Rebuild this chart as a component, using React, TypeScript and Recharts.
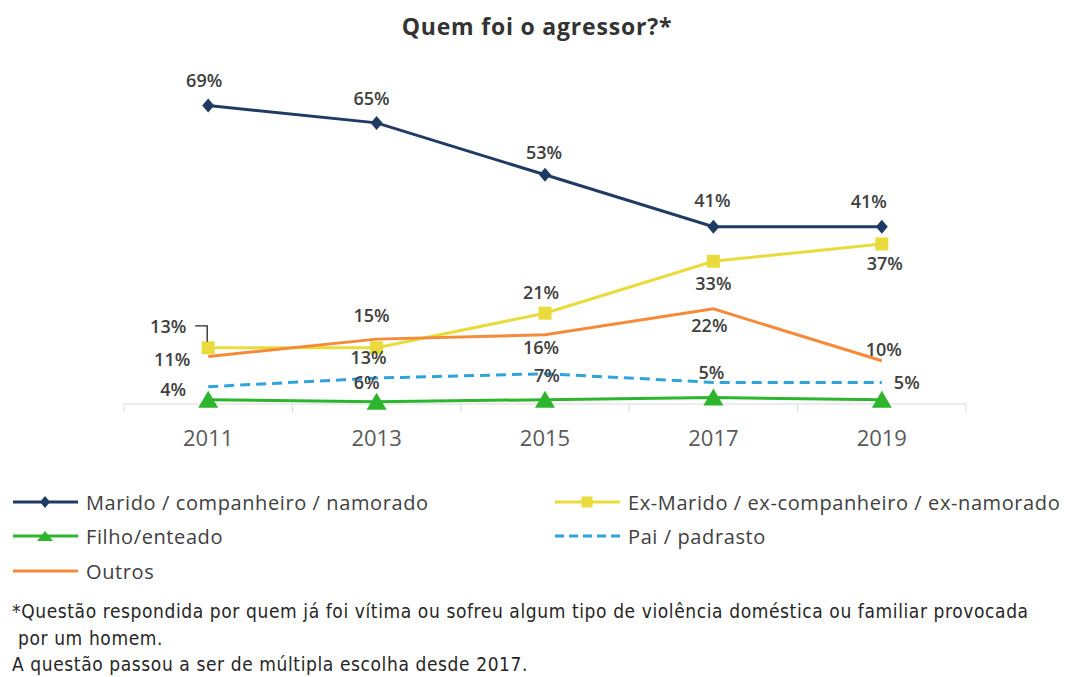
import React from 'react';
import { LineChart, Line, XAxis, YAxis, LabelList } from 'recharts';

// chart values
const years = ['2011', '2013', '2015', '2017', '2019'];
const marido = [69, 65, 53, 41, 41];
const exMarido = [13, 13, 21, 33, 37];
const filho = [1, 0.5, 1, 1.5, 1];
const pai = [4, 6, 7, 5, 5];
const outros = [11, 15, 16, 22, 10];

const seriesNames = {
  marido: 'Marido / companheiro / namorado',
  exMarido: 'Ex-Marido / ex-companheiro / ex-namorado',
  filho: 'Filho/enteado',
  pai: 'Pai / padrasto',
  outros: 'Outros',
};

const data = years.map((year, i) => ({
  year,
  marido: marido[i],
  exMarido: exMarido[i],
  filho: filho[i],
  pai: pai[i],
  outros: outros[i],
}));

const W = 1069;
const H = 677;
const CHART_H = 460;
const margin = { top: 58, right: 103, left: 124, bottom: 0 };
const half = (W - margin.left - margin.right) / years.length / 2;

const COLORS = {
  marido: '#1F3B63',
  exMarido: '#EADB3C',
  filho: '#2DB52D',
  pai: '#2FA3DA',
  outros: '#F58B3A',
};

const TEXT = '#404040';
const FONT = '"Open Sans", "DejaVu Sans", sans-serif';

// label offsets (dx, dy) from each point
const labelOffsets: Record<string, number[][]> = {
  marido: [[-4, -26], [-5, -25], [-1, -23], [-1, -27], [-13, -26]],
  exMarido: [[-40, -22], [-8, 9], [-4, -21], [0, 22], [3, 19]],
  outros: [[-36, 3], [-5, -24], [-4, 12], [-4, 16], [2, -12]],
  pai: [[-35, 2], [-10, 4], [2, 1], [-2, -10], [25, 0]],
};

const makeLabel = (key: string) => (props: any) => {
  const { x, y, value, index } = props;
  const [dx, dy] = labelOffsets[key][index];
  return (
    <g>
      {key === 'exMarido' && index === 0 && (
        <path d={`M${x - 13} ${y - 22} H${x - 1} V${y - 6}`} stroke="#262626" strokeWidth={1.3} fill="none" />
      )}
      <text
        x={x + dx}
        y={y + dy}
        textAnchor="middle"
        dominantBaseline="central"
        fontSize={18}
        fontWeight={600}
        fontFamily={FONT}
        fill={TEXT}
      >
        {value}%
      </text>
    </g>
  );
};

const Diamond = (props: any) => {
  const { cx, cy } = props;
  if (cx == null) return null;
  return <path d={`M${cx} ${cy - 7} L${cx + 6} ${cy} L${cx} ${cy + 7} L${cx - 6} ${cy} Z`} fill={COLORS.marido} />;
};

const Square = (props: any) => {
  const { cx, cy } = props;
  if (cx == null) return null;
  return <rect x={cx - 6.5} y={cy - 6.5} width={13} height={13} fill={COLORS.exMarido} />;
};

const Triangle = (props: any) => {
  const { cx, cy } = props;
  if (cx == null) return null;
  return <path d={`M${cx - 10} ${cy + 8} L${cx + 10} ${cy + 8} L${cx} ${cy - 9} Z`} fill={COLORS.filho} />;
};

const YearTick = (props: any) => {
  const { x, y, payload, index } = props;
  return (
    <g>
      <line x1={x - half} y1={y} x2={x - half} y2={y + 8} stroke="#D9D9D9" />
      {index === years.length - 1 && <line x1={x + half} y1={y} x2={x + half} y2={y + 8} stroke="#D9D9D9" />}
      <text x={x} y={y + 33} textAnchor="middle" dominantBaseline="central" fontSize={22} fontFamily={FONT} fill="#595959">
        {payload.value}
      </text>
    </g>
  );
};

const LegendItem = ({ left, top, kind, label }: { left: number; top: number; kind: string; label: string }) => {
  const color = (COLORS as any)[kind];
  return (
    <div style={{ position: 'absolute', left, top: top - 14, height: 28, display: 'flex', alignItems: 'center' }}>
      <svg width={72} height={28} style={{ display: 'block' }}>
        <line x1={3} y1={14} x2={68} y2={14} stroke={color} strokeWidth={3} strokeDasharray={kind === 'pai' ? '9 5' : undefined} />
        {kind === 'marido' && <path d="M35 8 L40 14 L35 20 L30 14 Z" fill={color} />}
        {kind === 'exMarido' && <rect x={29.5} y={8.5} width={11} height={11} fill={color} />}
        {kind === 'filho' && <path d="M27 19 L43 19 L35 9 Z" fill={color} />}
      </svg>
      <span style={{ fontFamily: FONT, fontSize: 20, letterSpacing: 0.6, color: TEXT, whiteSpace: 'nowrap', marginLeft: 4 }}>
        {label}
      </span>
    </div>
  );
};

export default function App() {
  return (
    <div style={{ position: 'relative', width: W, height: H, background: '#fff', overflow: 'hidden' }}>
      <style>{`body{margin:0}`}</style>
      <div
        style={{
          position: 'absolute',
          top: 10,
          left: 0,
          width: 1074,
          textAlign: 'center',
          fontFamily: FONT,
          fontWeight: 700,
          fontSize: 23,
          letterSpacing: 0.8,
          color: '#333',
        }}
      >
        Quem foi o agressor?*
      </div>
      <div style={{ position: 'absolute', top: 0, left: 0 }}>
        <LineChart width={W} height={CHART_H} data={data} margin={margin}>
          <XAxis
            dataKey="year"
            padding={{ left: half, right: half }}
            axisLine={{ stroke: '#D9D9D9' }}
            tickLine={false}
            tickSize={0}
            tickMargin={0}
            interval={0}
            height={CHART_H - 404}
            tick={<YearTick />}
          />
          <YAxis hide domain={[0, 80]} />
          <Line dataKey="marido" stroke={COLORS.marido} strokeWidth={3} dot={<Diamond />} activeDot={false} isAnimationActive={false}>
            <LabelList dataKey="marido" content={makeLabel('marido')} />
          </Line>
          <Line dataKey="exMarido" stroke={COLORS.exMarido} strokeWidth={3} dot={<Square />} activeDot={false} isAnimationActive={false}>
            <LabelList dataKey="exMarido" content={makeLabel('exMarido')} />
          </Line>
          <Line dataKey="filho" stroke={COLORS.filho} strokeWidth={3} dot={<Triangle />} activeDot={false} isAnimationActive={false} />
          <Line
            dataKey="pai"
            stroke={COLORS.pai}
            strokeWidth={3}
            strokeDasharray="10 6"
            dot={false}
            activeDot={false}
            isAnimationActive={false}
          >
            <LabelList dataKey="pai" content={makeLabel('pai')} />
          </Line>
          <Line dataKey="outros" stroke={COLORS.outros} strokeWidth={3} dot={false} activeDot={false} isAnimationActive={false}>
            <LabelList dataKey="outros" content={makeLabel('outros')} />
          </Line>
        </LineChart>
      </div>
      <LegendItem left={10} top={502} kind="marido" label={seriesNames.marido} />
      <LegendItem left={552} top={502} kind="exMarido" label={seriesNames.exMarido} />
      <LegendItem left={10} top={536} kind="filho" label={seriesNames.filho} />
      <LegendItem left={552} top={536} kind="pai" label={seriesNames.pai} />
      <LegendItem left={10} top={571} kind="outros" label={seriesNames.outros} />
      <div
        style={{
          position: 'absolute',
          left: 12,
          top: 598,
          fontFamily: '"DejaVu Sans Condensed", "DejaVu Sans", sans-serif',
          fontSize: 19,
          letterSpacing: 0.6,
          lineHeight: '26.5px',
          color: '#262626',
          whiteSpace: 'pre',
        }}
      >
        {'*Questão respondida por quem já foi vítima ou sofreu algum tipo de violência doméstica ou familiar provocada\n por um homem.\nA questão passou a ser de múltipla escolha desde 2017.'}
      </div>
    </div>
  );
}
